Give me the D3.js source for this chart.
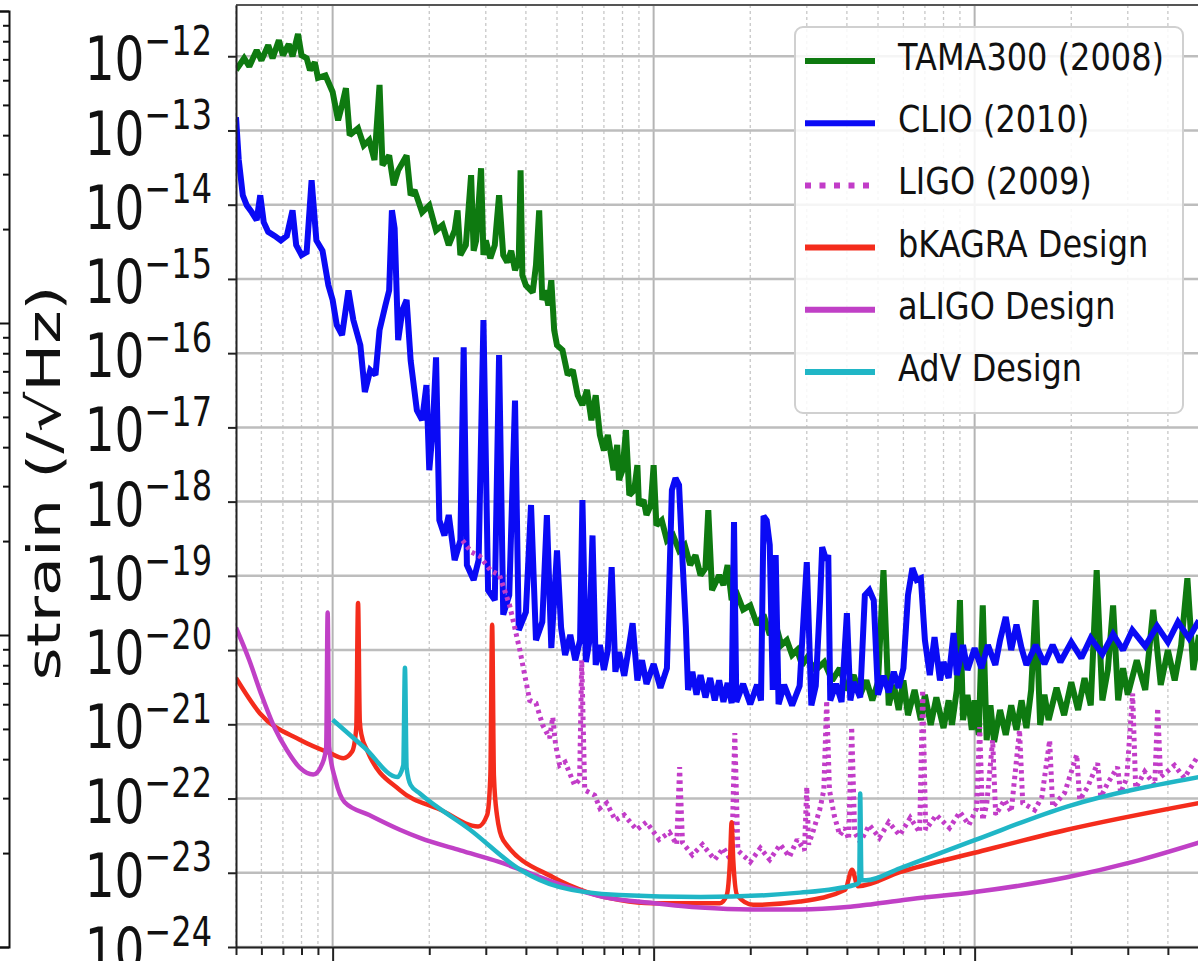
<!DOCTYPE html>
<html>
<head>
<meta charset="utf-8">
<script src="https://cdn.jsdelivr.net/npm/d3@7"></script>
<style>
  body { margin: 0; background: #fff; overflow: hidden; }
  svg { display: block; font-family: "DejaVu Sans", sans-serif; }
</style>
</head>
<body>
<div id="chart-area"><svg></svg></div>
<script>
const chartSize = { width: 1198, height: 961 };
const margin = { left: 236, top: 5, right: -1, bottom: 14 };

const width = chartSize.width - margin.left - margin.right;
const height = chartSize.height - margin.top - margin.bottom;

// [frequency (Hz), strain (1/sqrt(Hz))]
const tamaData = [
  [5, 6.5e-13], [5.3, 9.4e-13], [5.5, 7.3e-13], [5.8, 1.2e-12], [6, 8.8e-13], [6.3, 1.41e-12],
  [6.5, 9.4e-13], [6.8, 1.64e-12], [7, 1.03e-12], [7.3, 1.45e-12], [7.5, 1e-12], [7.8, 2.0e-12],
  [8, 1.03e-12], [8.3, 9.4e-13], [8.5, 6.5e-13], [8.8, 8.3e-13], [9, 5.1e-13], [9.5, 5.5e-13],
  [10, 3.3e-13], [10.4, 1.37e-13], [10.7, 2.2e-13], [11, 3.7e-13], [11.3, 8.6e-14], [12, 1.07e-13],
  [12.5, 6.3e-14], [13, 7.4e-14], [13.5, 4.0e-14], [14, 4.1e-13], [14.3, 3.4e-14], [15, 4.6e-14],
  [15.5, 1.83e-14], [16, 2.9e-14], [17, 4.6e-14], [17.5, 1.34e-14], [18, 1.57e-14], [19, 7.9e-15],
  [20, 9.8e-15], [21, 4.5e-15], [22, 5.3e-15], [23, 2.85e-15], [24, 4.5e-15], [24.5, 8.4e-15],
  [25, 2.1e-15], [26, 2.85e-15], [27, 2.5e-14], [27.5, 2.4e-15], [28, 3.3e-15], [29, 3.1e-14],
  [29.5, 2.1e-15], [30, 3.3e-15], [31, 1.9e-15], [32, 2.85e-15], [33, 1.34e-14], [34, 2.1e-15],
  [35, 1.68e-15], [36, 2.4e-15], [37, 1.31e-15], [38, 1.8e-15], [38.5, 2.9e-14], [39, 1.12e-15],
  [40, 8.2e-16], [42, 6.6e-16], [43, 1.53e-15], [44, 8.4e-15], [45, 5.2e-16], [46, 7.0e-16],
  [47, 4.4e-16], [48, 9.6e-16], [49, 2.04e-16], [50, 1.28e-16], [52, 1.1e-16], [54, 5.1e-17],
  [56, 5.9e-17], [58, 2.7e-17], [60, 2.0e-17], [62, 3.2e-17], [64, 1.25e-17], [66, 2.7e-17],
  [68, 7.9e-18], [70, 4.9e-18], [72, 7.9e-18], [75, 2.65e-18], [77, 5.8e-18], [78, 1.95e-18],
  [80, 2.65e-18], [82, 9.2e-18], [84, 1.22e-18], [87, 1.43e-18], [89, 3.1e-18], [90, 9.0e-19],
  [93, 1.05e-18], [95, 6.6e-19], [98, 9.0e-19], [100, 3.1e-18], [102, 4.8e-19], [106, 5.6e-19],
  [110, 3.0e-19], [115, 3.5e-19], [120, 2.2e-19], [125, 2.6e-19], [130, 1.4e-19], [135, 1.9e-19],
  [140, 1.02e-19], [145, 1.27e-19], [148, 7.7e-19], [152, 6.4e-20], [160, 1.02e-19], [165, 7.5e-20],
  [170, 1.4e-19], [175, 4.7e-20], [180, 6.4e-20], [190, 3.5e-20], [200, 4.0e-20], [210, 2.2e-20],
  [220, 3.0e-20], [230, 1.6e-20], [240, 2.2e-20], [250, 1.17e-20], [260, 1.36e-20], [270, 8.6e-21],
  [280, 1.0e-20], [290, 6.3e-21], [300, 7.8e-21], [320, 5.4e-21], [340, 6.9e-21], [360, 3.9e-21],
  [380, 5.7e-21], [400, 2.9e-21], [420, 4.6e-21], [440, 2.5e-21], [460, 3.9e-21], [480, 2.1e-21],
  [500, 3.7e-21], [520, 1.19e-19], [540, 1.8e-21], [560, 3.4e-21], [580, 1.56e-21], [600, 3.9e-21],
  [620, 1.33e-21], [650, 2.9e-21], [680, 1.14e-21], [700, 2.5e-21], [730, 9.8e-22], [760, 2.3e-21],
  [800, 8.9e-22], [830, 2.1e-21], [850, 9.8e-22], [880, 2.9e-21], [900, 4.7e-20], [920, 1.14e-21],
  [950, 2.5e-21], [980, 8.4e-22], [1000, 2.1e-21], [1030, 7.2e-22], [1060, 4.0e-20], [1090, 6.1e-22],
  [1120, 1.8e-21], [1150, 5.8e-22], [1200, 1.56e-21], [1250, 7.2e-22], [1300, 1.8e-21], [1350, 8.4e-22],
  [1400, 2.1e-21], [1450, 8.9e-22], [1500, 2.9e-21], [1550, 4.7e-20], [1600, 9.8e-22], [1650, 2.5e-21],
  [1700, 1.14e-21], [1800, 3.1e-21], [1900, 1.33e-21], [2000, 3.7e-21], [2100, 1.56e-21], [2200, 4.2e-21],
  [2300, 1.8e-21], [2400, 1.19e-19], [2500, 2.1e-21], [2600, 5.4e-21], [2700, 4.0e-20], [2800, 2.1e-21],
  [2900, 5.7e-21], [3000, 2.5e-21], [3200, 7.3e-21], [3400, 2.9e-21], [3600, 3.5e-20], [3800, 3.4e-21],
  [4000, 1.0e-20], [4200, 3.9e-21], [4400, 1.17e-20], [4600, 9.3e-20], [4800, 5.4e-21], [5000, 1.6e-20]
];

const clioData = [
  [5, 1.51e-13], [5.1, 4.0e-14], [5.25, 1.34e-14], [5.4, 9.8e-15], [5.6, 7.9e-15], [5.8, 6.2e-15],
  [5.95, 1.34e-14], [6.1, 5.8e-15], [6.3, 4.3e-15], [6.6, 3.8e-15], [6.9, 3.3e-15], [7.2, 3.8e-15],
  [7.5, 8.4e-15], [7.7, 2.85e-15], [8, 2.1e-15], [8.3, 2.3e-15], [8.6, 2.14e-14], [8.9, 3.3e-15],
  [9.3, 2.4e-15], [9.7, 8.2e-16], [10, 5.2e-16], [10.3, 2.4e-16], [10.7, 1.75e-16], [11.2, 7.0e-16],
  [11.6, 2.8e-16], [12.2, 1.28e-16], [12.6, 3.0e-17], [13.1, 5.9e-17], [13.6, 5.1e-17], [14, 2.04e-16],
  [14.6, 4.4e-16], [15, 7.0e-16], [15.3, 8.4e-15], [15.6, 4.8e-15], [16, 1.5e-16], [16.5, 3.8e-16],
  [17, 5.2e-16], [17.5, 8.0e-17], [18.3, 1.7e-17], [19, 1.25e-17], [19.6, 3.7e-17], [20, 2.65e-18],
  [20.5, 9.2e-18], [21, 8.8e-17], [21.5, 5.6e-19], [22.3, 3.5e-19], [23, 6.6e-19], [24, 1.63e-19],
  [25, 3.0e-19], [25.6, 1.2e-16], [26.2, 1.4e-19], [27.5, 8.8e-20], [28.5, 1.63e-19], [29.5, 2.8e-16],
  [30.5, 6.4e-20], [32, 4.7e-20], [33, 9.4e-17], [34, 3.0e-20], [35.5, 5.5e-20], [37, 2.3e-17],
  [38, 1.86e-20], [40, 3.25e-20], [41.5, 9.0e-19], [43, 1.36e-20], [45, 2.4e-20], [46.5, 6.6e-19],
  [48, 1.06e-20], [50, 2.2e-19], [51.5, 1.98e-20], [53, 8.6e-21], [55, 1.6e-20], [57, 7.3e-21],
  [59, 1.36e-20], [60, 1.05e-18], [61.5, 6.9e-21], [63, 1.28e-20], [64.5, 3.5e-19], [66, 6.3e-21],
  [68, 1.17e-20], [70, 5.4e-21], [72, 1.0e-20], [74, 1.31e-19], [76, 5.1e-21], [78, 9.4e-21],
  [81, 4.5e-21], [83, 8.6e-21], [86, 2.3e-20], [89, 3.9e-21], [92, 7.3e-21], [95, 3.5e-21],
  [100, 6.5e-21], [105, 3.1e-21], [110, 5.7e-21], [114, 1.43e-18], [117, 2.07e-18], [120, 1.67e-18],
  [123, 1.63e-19], [126, 2.04e-20], [128, 2.9e-21], [132, 5.1e-21], [136, 2.5e-21], [140, 4.6e-21],
  [145, 2.3e-21], [150, 4.2e-21], [155, 2.1e-21], [160, 3.9e-21], [165, 2.0e-21], [170, 3.6e-21],
  [175, 1.93e-21], [178, 5.3e-19], [181, 2.0e-21], [190, 3.5e-21], [200, 1.87e-21], [210, 3.4e-21],
  [216, 2.1e-21], [220, 6.4e-19], [225, 5.6e-19], [230, 2.6e-19], [235, 2.9e-21], [240, 1.9e-19],
  [245, 1.87e-21], [255, 3.4e-21], [270, 1.8e-21], [285, 3.3e-21], [300, 1.53e-19], [310, 1.8e-21],
  [320, 3.3e-21], [330, 4.7e-20], [335, 2.44e-19], [345, 1.63e-19], [350, 1.9e-19], [355, 2.1e-21],
  [370, 3.5e-21], [385, 2.0e-21], [400, 3.15e-20], [410, 2.1e-21], [420, 3.7e-21], [440, 2.3e-21],
  [455, 5.5e-20], [470, 6.4e-20], [485, 4.7e-20], [500, 2.5e-21], [520, 4.5e-21], [540, 2.7e-21],
  [560, 5.1e-21], [580, 3.1e-21], [600, 5.7e-21], [620, 5.5e-20], [640, 1.27e-19], [660, 8.8e-20],
  [680, 9.3e-20], [700, 1.36e-20], [725, 4.6e-21], [750, 1.5e-20], [780, 3.9e-21], [800, 6.9e-21],
  [830, 4.2e-21], [860, 1.7e-20], [880, 4.6e-21], [920, 1.17e-20], [950, 5.4e-21], [1000, 1.06e-20],
  [1050, 5.7e-21], [1100, 1.17e-20], [1160, 6.3e-21], [1200, 1.36e-20], [1250, 2.8e-20], [1300, 1.0e-20],
  [1350, 2.2e-20], [1400, 1.06e-20], [1450, 6.3e-21], [1550, 1.17e-20], [1650, 6.5e-21], [1750, 1.17e-20],
  [1850, 6.9e-21], [2000, 1.28e-20], [2150, 7.8e-21], [2300, 1.45e-20], [2500, 8.8e-21], [2700, 1.64e-20],
  [2900, 1.0e-20], [3100, 1.86e-20], [3400, 1.13e-20], [3700, 2.1e-20], [4000, 1.28e-20], [4300, 2.4e-20],
  [4650, 1.45e-20], [5000, 2.5e-20]
];

const ligoData = [
  [25.4, 3.0e-19], [27, 2.1e-19], [28.7, 1.85e-19], [31, 1.19e-19], [33.1, 1.02e-19], [35.6, 4.0e-20],
  [38.3, 1.0e-20], [41.1, 2.1e-21], [43, 1.93e-21], [45.1, 9.8e-22], [47.4, 6.5e-22], [48.5, 1.25e-21],
  [49.5, 5.3e-22], [51, 2.8e-22], [53, 3.1e-22], [56.7, 1.52e-22], [58.8, 1.8e-22], [59.7, 7.3e-21],
  [61, 1.3e-22], [65.5, 1.11e-22], [68, 7.4e-23], [71.4, 8.7e-23], [76, 5.1e-23], [81, 6.0e-23],
  [88.5, 3.8e-23], [95, 4.8e-23], [104, 2.8e-23], [112, 3.5e-23], [118, 2.4e-23], [120.5, 2.65e-22],
  [123, 2.55e-23], [132, 1.74e-23], [142, 2.4e-23], [155, 1.5e-23], [165, 2.15e-23], [175, 1.4e-23],
  [179, 7.6e-22], [183, 2.0e-23], [200, 1.4e-23], [215, 2.15e-23], [230, 1.5e-23], [248, 2.4e-23],
  [265, 1.64e-23], [280, 2.8e-23], [295, 2.0e-23], [300, 1.43e-22], [304, 2.4e-23], [315, 3.8e-23],
  [329, 7.0e-23], [339, 1.3e-22], [346, 2.1e-21], [353, 1.3e-22], [365, 6.0e-23], [380, 3.2e-23],
  [395, 4.0e-23], [405, 2.8e-23], [414, 9.2e-22], [423, 3.5e-23], [440, 2.6e-23], [470, 4.4e-23],
  [505, 2.95e-23], [540, 4.8e-23], [584, 3.2e-23], [630, 5.5e-23], [674, 3.5e-23], [689, 2.9e-21],
  [704, 3.8e-23], [760, 6.0e-23], [835, 4.0e-23], [900, 6.6e-23], [960, 4.4e-23], [1014, 7.4e-23],
  [1037, 9.2e-22], [1059, 5.1e-23], [1090, 8.2e-23], [1138, 6.1e-22], [1163, 6.0e-23], [1239, 9.6e-23],
  [1300, 6.6e-23], [1380, 8.4e-22], [1412, 8.7e-23], [1538, 7.0e-23], [1620, 1.05e-22], [1713, 6.1e-22],
  [1750, 7.7e-23], [1907, 1.19e-22], [2080, 3.9e-22], [2125, 9.6e-23], [2249, 1.43e-22], [2417, 3.0e-22],
  [2472, 1.05e-22], [2600, 1.62e-22], [2788, 2.65e-22], [2851, 1.19e-22], [2978, 1.9e-22], [3106, 2.6e-21],
  [3175, 1.38e-22], [3388, 2.3e-22], [3640, 1.52e-22], [3717, 1.66e-21], [3797, 1.95e-22], [4194, 2.8e-22],
  [4500, 1.9e-22], [4915, 3.5e-22]
];

const bkagraData = [
  [5, 4.2e-21], [5.94, 1.4e-21], [7.9, 6.2e-22], [9.8, 4.1e-22], [10.8, 3.5e-22], [11.5, 4.3e-22],
  [11.85, 9e-22], [12.0, 4.3e-20], [12.15, 1.1e-21], [12.3, 7.2e-22], [12.8, 4.5e-22], [16.2, 1.3e-22],
  [21.6, 7.1e-23], [28.4, 4.2e-23], [30.3, 6e-23], [31.0, 2e-22], [31.4, 2.2e-20], [31.8, 2e-22],
  [32.5, 6e-23], [34, 2.75e-23], [48.6, 8.7e-24], [62, 5.5e-24], [78.5, 4.3e-24], [99.5, 3.9e-24],
  [161, 3.9e-24], [169, 5.0e-24], [173, 1.5e-23], [175, 4.8e-23], [177, 1.5e-23], [182, 5.0e-24],
  [204, 3.7e-24], [286, 4.1e-24], [395, 5.9e-24], [415, 1.1e-23], [433, 6.6e-24], [585, 1.02e-23],
  [1000, 1.86e-23], [1940, 3.8e-23], [5000, 8.7e-23]
];

const aligoData = [
  [5, 2.0e-20], [5.5, 7.3e-21], [6, 2.5e-21], [6.6, 8.9e-22], [7.2, 4.5e-22], [7.9, 2.6e-22],
  [8.7, 2.1e-22], [9.3, 3.0e-22], [9.55, 5e-22], [9.65, 3.2e-20], [9.75, 5e-22], [10.2, 1.8e-22],
  [10.9, 8.9e-23], [13, 6.0e-23], [16.2, 3.8e-23], [18.7, 2.95e-23], [25, 2.0e-23], [33, 1.4e-23],
  [52, 6.8e-24], [70, 4.7e-24], [100, 3.9e-24], [140, 3.4e-24], [200, 3.2e-24], [286, 3.2e-24],
  [400, 3.45e-24], [462, 3.7e-24], [600, 4.3e-24], [1000, 5.5e-24], [1940, 8.7e-24], [3110, 1.4e-23],
  [5000, 2.55e-23]
];

const advData = [
  [10, 1.15e-21], [12.6, 4.8e-22], [15.9, 1.95e-22], [16.6, 2.8e-22], [16.8, 5.8e-21], [17.0, 2.6e-22],
  [17.5, 1.52e-22], [18.7, 1.17e-22], [26.8, 3.8e-23], [38.4, 1.1e-23], [51, 6.4e-24], [78, 5.0e-24],
  [140, 4.7e-24], [286, 5.4e-24], [424, 6.9e-24], [437, 7.5e-24], [440, 1.17e-22], [444, 8e-24],
  [459, 7.9e-24], [585, 1.15e-23], [1000, 2.75e-23], [1940, 7.8e-23], [5000, 1.95e-22]
];

const seriesNames = ["TAMA300 (2008)", "CLIO (2010)", "LIGO (2009)", "bKAGRA Design", "aLIGO Design", "AdV Design"];
const seriesData = [tamaData, clioData, ligoData, bkagraData, aligoData, advData];
const yTickExponents = [-12, -13, -14, -15, -16, -17, -18, -19, -20, -21, -22, -23, -24];
const freqDomain = [5, 5000];
const strainDomain = [1e-24, 4.9e-12];
const yLabel = "strain (/\u221AHz)";

const seriesStyles = [
  { color: "#0e7a10", width: 6, dash: null, curve: d3.curveLinear },
  { color: "#0a0af5", width: 6, dash: null, curve: d3.curveLinear },
  { color: "#c23cc8", width: 5, dash: "3.5,4", curve: d3.curveLinear },
  { color: "#f42c1c", width: 4.5, dash: null, curve: d3.curveMonotoneX },
  { color: "#c040c6", width: 4.5, dash: null, curve: d3.curveMonotoneX },
  { color: "#20b6c6", width: 4.5, dash: null, curve: d3.curveMonotoneX }
];

const drawChart = function() {
  const svg = d3
    .select("#chart-area svg")
    .attr("width", chartSize.width)
    .attr("height", chartSize.height);

  const x = d3.scaleLog().domain(freqDomain).range([0, width]);
  const y = d3.scaleLog().domain(strainDomain).range([height, 0]);

  svg
    .append("defs")
    .append("clipPath")
    .attr("id", "plot-clip")
    .append("rect")
    .attr("width", width)
    .attr("height", height);

  // edge of the neighbouring figure on the left
  const side = d3.scaleLog().domain([1, 1000]).range([947, 11]);
  const sideAxis = svg
    .append("g")
    .attr("transform", "translate(9,0)")
    .call(d3.axisLeft(side).tickValues(side.ticks()).tickFormat("").tickSize(6).tickSizeOuter(9));
  sideAxis.selectAll("path, line").attr("stroke", "#111").attr("stroke-width", 2);
  sideAxis
    .selectAll(".tick line")
    .filter(d => Math.abs(Math.log10(d) % 1) < 1e-9)
    .attr("x2", -9);

  const plot = svg
    .append("g")
    .attr("class", "plot")
    .attr("transform", `translate(${margin.left},${margin.top})`);

  const xTicks = x.ticks();
  const isMajor = d => Math.abs(Math.log10(d) - Math.round(Math.log10(d))) < 1e-9;

  const grid = plot.append("g").attr("class", "grid");
  grid
    .selectAll(".vminor")
    .data(xTicks.filter(d => !isMajor(d)))
    .join("line")
    .attr("x1", d => x(d))
    .attr("x2", d => x(d))
    .attr("y1", 0)
    .attr("y2", height)
    .attr("stroke", "#c8c8c8")
    .attr("stroke-width", 1.3)
    .attr("stroke-dasharray", "3,3");

  grid
    .selectAll(".vmajor")
    .data(xTicks.filter(isMajor))
    .join("line")
    .attr("x1", d => x(d))
    .attr("x2", d => x(d))
    .attr("y1", 0)
    .attr("y2", height)
    .attr("stroke", "#b4b4b4")
    .attr("stroke-width", 2);

  grid
    .selectAll(".hmajor")
    .data(yTickExponents.map(e => Math.pow(10, e)))
    .join("line")
    .attr("x1", 0)
    .attr("x2", width)
    .attr("y1", d => y(d))
    .attr("y2", d => y(d))
    .attr("stroke", "#bdbdbd")
    .attr("stroke-width", 2.5);

  const line = (curve) =>
    d3
      .line()
      .curve(curve)
      .x(d => x(d[0]))
      .y(d => y(d[1]));

  const lines = plot.append("g").attr("clip-path", "url(#plot-clip)");
  seriesData.forEach((data, i) => {
    const st = seriesStyles[i];
    lines
      .append("path")
      .attr("d", line(st.curve)(data))
      .attr("fill", "none")
      .attr("stroke", st.color)
      .attr("stroke-width", st.width)
      .attr("stroke-linejoin", "miter")
      .attr("stroke-miterlimit", 2)
      .attr("stroke-dasharray", st.dash);
  });

  // top spine
  plot
    .append("line")
    .attr("x1", 0)
    .attr("x2", width)
    .attr("y1", 0)
    .attr("y2", 0)
    .attr("stroke", "#555")
    .attr("stroke-width", 2);

  const yAxis = plot
    .append("g")
    .attr("class", "y-axis")
    .call(d3.axisLeft(y).tickValues(yTickExponents.map(e => Math.pow(10, e))).tickFormat("").tickSize(8).tickSizeOuter(0));
  yAxis.selectAll("path, line").attr("stroke", "#222").attr("stroke-width", 2);

  const xAxis = plot
    .append("g")
    .attr("class", "x-axis")
    .attr("transform", `translate(0,${height})`)
    .call(d3.axisBottom(x).tickValues(xTicks).tickFormat("").tickSize(8).tickSizeOuter(0));
  xAxis.selectAll("path, line").attr("stroke", "#222").attr("stroke-width", 2);
  xAxis
    .selectAll(".tick line")
    .filter(d => isMajor(d))
    .attr("y2", 14);

  // y tick labels 10^n
  const labels = plot
    .append("g")
    .attr("class", "y-labels")
    .selectAll("text")
    .data(yTickExponents)
    .join("text")
    .attr("transform", e => `translate(-24,${y(Math.pow(10, e))}) scale(1,1.3)`)
    .attr("text-anchor", "end")
    .attr("y", 18.5)
    .attr("fill", "#111");
  labels.append("tspan").attr("font-size", 47).text("10");
  labels
    .append("tspan")
    .attr("font-size", 32)
    .attr("dy", -19.5)
    .text(e => "\u2212" + Math.abs(e));

  svg
    .append("text")
    .attr("class", "y-axis-label")
    .attr("transform", "translate(60,483) rotate(-90)")
    .attr("text-anchor", "middle")
    .attr("font-size", 46)
    .attr("textLength", 395)
    .attr("lengthAdjust", "spacingAndGlyphs")
    .attr("fill", "#111")
    .text(yLabel);

  // legend
  const legend = svg.append("g").attr("class", "legend").attr("transform", "translate(795,27)");
  legend
    .append("rect")
    .attr("width", 388)
    .attr("height", 386)
    .attr("rx", 8)
    .attr("fill", "rgba(255,255,255,0.85)")
    .attr("stroke", "#d0d0d0")
    .attr("stroke-width", 2);

  const rows = legend
    .selectAll(".row")
    .data(seriesNames)
    .join("g")
    .attr("class", "row")
    .attr("transform", (d, i) => `translate(0,${34 + i * 62.2})`);

  rows
    .append("line")
    .attr("x1", 10)
    .attr("x2", 80)
    .attr("stroke", (d, i) => seriesStyles[i].color)
    .attr("stroke-width", 6)
    .attr("stroke-dasharray", (d, i) => (seriesStyles[i].dash ? "6,8.5" : null));

  rows
    .append("text")
    .attr("transform", "translate(103,9) scale(1,1.16)")
    .attr("font-size", 32)
    .attr("fill", "#111")
    .text(d => d);
};

window.onload = drawChart;
</script>
</body>
</html>
